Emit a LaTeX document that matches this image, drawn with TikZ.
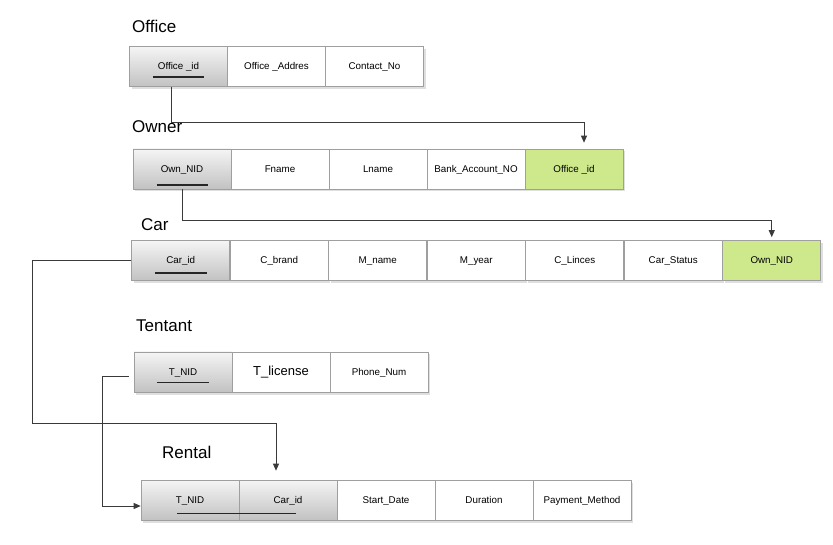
\documentclass[tikz,border=0pt]{standalone}
\usepackage{fontspec}
\setmainfont{Liberation Sans}
\usetikzlibrary{shadows,arrows.meta,calc}
\definecolor{fkgreen}{HTML}{CDE98C}
\definecolor{linegray}{HTML}{3A3A3A}
\begin{document}
\begin{tikzpicture}[x=1pt,y=-1pt,
  cell/.style={draw=gray!75, line width=0.7pt, fill=white, minimum width=98pt, minimum height=40pt, inner sep=0pt,
    text height=1.5ex, text depth=0.3ex,
    font=\fontsize{9.8}{11}\selectfont, drop shadow={opacity=0.25,shadow xshift=2pt,shadow yshift=-2.5pt}},
  keycell/.style={cell, top color=gray!8, bottom color=gray!48},
  fkcell/.style={cell, fill=fkgreen},
  title/.style={font=\fontsize{17}{20}\selectfont, anchor=west, inner sep=0pt},
  pk/.style={line width=1.4pt, black!85},
  conn/.style={linegray, line width=0.8pt},
  arr/.style={conn, -{Triangle[length=7pt,width=6pt]}}]
\useasboundingbox[fill=white] (0,0) rectangle (833,545);

% Office
\node[title] (tOffice) at (132,26) {Office};
\node[keycell] (of1) at (178.5,66.5) {Office \_id};
\node[cell] (of2) at (276.5,66.5) {Office \_Addres};
\node[cell] (of3) at (374.5,66.5) {Contact\_No};
\draw[pk] ($(of1.south)+(-25.5,-10)$) -- ($(of1.south)+(25.5,-10)$);

% Owner
\node[title] (tOwner) at (132,127) {Owner};
\node[keycell] (ow1) at (182,169) {Own\_NID};
\node[cell] (ow2) at (280,169) {Fname};
\node[cell] (ow3) at (378,169) {Lname};
\node[cell] (ow4) at (476,169) {Bank\_Account\_NO};
\node[fkcell] (ow5) at (574,169) {Office \_id};
\draw[pk] ($(ow1.south)+(-25.5,-4.5)$) -- ($(ow1.south)+(25.5,-4.5)$);

% Car
\node[title] (tCar) at (141,225) {Car};
\begin{scope}[every node/.append style={minimum width=98.5pt}]
\node[keycell] (c1) at (180.75,260.5) {Car\_id};
\node[cell] (c2) at (279.25,260.5) {C\_brand};
\node[cell] (c3) at (377.75,260.5) {M\_name};
\node[cell] (c4) at (476.25,260.5) {M\_year};
\node[cell] (c5) at (574.75,260.5) {C\_Linces};
\node[cell] (c6) at (673.25,260.5) {Car\_Status};
\node[fkcell] (c7) at (771.75,260.5) {Own\_NID};
\end{scope}
\draw[pk] ($(c1.south)+(-26,-8)$) -- ($(c1.south)+(26,-8)$);

% Tentant
\node[title] (tTentant) at (136,326) {Tentant};
\node[keycell] (t1) at (183,372) {T\_NID};
\node[cell, font=\fontsize{13}{15}\selectfont] (t2) at (281,372) {T\_license};
\node[cell] (t3) at (379,372) {Phone\_Num};
\draw[pk] ($(t1.south)+(-26,-10)$) -- ($(t1.south)+(26,-10)$);

% Rental
\node[title] (tRental) at (162,452) {Rental};
\node[keycell] (r1) at (190,500) {T\_NID};
\node[keycell] (r2) at (288,500) {Car\_id};
\node[cell] (r3) at (386,500) {Start\_Date};
\node[cell] (r4) at (484,500) {Duration};
\node[cell] (r5) at (582,500) {Payment\_Method};
\draw[pk] ($(r1.south)+(-13,-7)$) -- ($(r2.south)+(8,-7)$);

% Connectors
\draw[arr] ([xshift=-7.5pt]of1.south) -- ++(0,35.5) -| ([xshift=10pt,yshift=6pt]ow5.north);
\draw[arr] (ow1.south) -- ++(0,31) -| ([yshift=3pt]c7.north);
\draw[arr] (c1.west) -| ++(-99.5,162.5) -| ([xshift=-12pt,yshift=9pt]r2.north);
\draw[arr] ([xshift=-5pt,yshift=-4pt]t1.west) -- ++(-26,0) |- ([yshift=-6pt]r1.west);
\end{tikzpicture}
\end{document}
